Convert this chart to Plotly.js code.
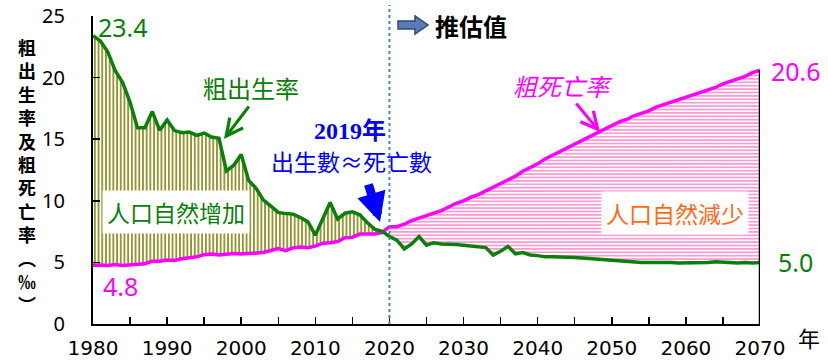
<!DOCTYPE html>
<html>
<head>
<meta charset="utf-8">
<script src="https://cdn.plot.ly/plotly-3.0.1.min.js"></script>
<style>html,body{margin:0;padding:0;background:#fff;}#chart{width:828px;height:363px;}</style>
</head>
<body>
<div id="chart"></div>
<script>
// ---- data ----
var startYear = 1980, endYear = 2070;
var years = [];
for (var yr = startYear; yr <= endYear; yr++) years.push(yr);

// crude birth rate (‰), 1980-2019 actual, 2020-2070 projection
var birthRate = [
  23.4, 22.97, 22.08, 20.56, 19.59, 18.0, 15.93, 15.93, 17.24, 15.72,
  16.55, 15.7, 15.53, 15.58, 15.31, 15.5, 15.18, 15.07, 12.43, 12.89,
  13.76, 11.65, 11.02, 10.06, 9.56, 9.06, 8.96, 8.92, 8.64, 8.29,
  7.21, 8.48, 9.86, 8.53, 8.99, 9.1, 8.86, 8.23, 7.7, 7.53,
  7.1, 6.8, 6.1, 6.5, 7.1, 6.4, 6.6, 6.5, 6.5, 6.45,
  6.4, 6.35, 6.3, 6.2, 5.6, 5.9, 6.3, 5.7, 5.8, 5.6,
  5.55, 5.45, 5.45, 5.45, 5.45, 5.4, 5.35, 5.3, 5.3, 5.25,
  5.2, 5.15, 5.05, 5.0, 5.0, 5.0, 5.0, 5.05, 5.0, 4.95,
  4.95, 4.95, 4.95, 5.0, 5.05, 5.0, 4.95, 4.95, 5.0, 4.95,
  5.0
];
// crude death rate (‰)
var deathRate = [
  4.76, 4.79, 4.74, 4.83, 4.75, 4.81, 4.87, 4.89, 5.1, 5.1,
  5.2, 5.15, 5.3, 5.36, 5.45, 5.63, 5.68, 5.6, 5.66, 5.73,
  5.68, 5.7, 5.75, 5.8, 5.97, 6.13, 5.95, 6.18, 6.25, 6.2,
  6.32, 6.56, 6.6, 6.69, 7.0, 7.03, 7.3, 7.27, 7.31, 7.42,
  7.9, 7.9, 8.1, 8.4, 8.6, 8.8, 9.0, 9.2, 9.5, 9.8,
  10.0, 10.3, 10.5, 10.8, 11.1, 11.4, 11.7, 12.0, 12.4, 12.7,
  13.0, 13.4, 13.7, 14.0, 14.3, 14.6, 14.9, 15.2, 15.5, 15.8,
  16.1, 16.4, 16.6, 16.9, 17.1, 17.3, 17.6, 17.8, 18.0, 18.2,
  18.4, 18.6, 18.8, 19.0, 19.2, 19.5, 19.7, 19.9, 20.1, 20.4,
  20.6
];
var projectionStart = 2020;
var xTickVals = [1980,1985,1990,1995,2000,2005,2010,2015,2020,2025,2030,2035,2040,2045,2050,2055,2060,2065,2070];
var xTickText = ['1980','','1990','','2000','','2010','','2020','','2030','','2040','','2050','','2060','','2070'];
var yTickVals = [0,5,10,15,20,25];
var yTitleChars = ['粗','出','生','率','及','粗','死','亡','率','︵','‰','︶'];

// ---- build ----
var split = years.indexOf(projectionStart);
var GREEN = '#0a800a', MAG = '#ff00ff';
var cjk = '"Noto Sans CJK TC", "Noto Sans CJK SC", sans-serif';

var traces = [
  {x: years.slice(0, split), y: deathRate.slice(0, split), mode: 'lines', line: {width: 0, color: 'rgba(0,0,0,0)'}, hoverinfo: 'skip', showlegend: false},
  {x: years.slice(0, split), y: birthRate.slice(0, split), mode: 'lines', line: {width: 0, color: 'rgba(0,0,0,0)'}, fill: 'tonexty',
   fillcolor: '#7a7a00', fillpattern: {shape: '|', fgcolor: '#7a7a00', bgcolor: '#ffffff', size: 3.7, solidity: 0.4}, hoverinfo: 'skip', showlegend: false},
  {x: years.slice(split), y: birthRate.slice(split), mode: 'lines', line: {width: 0, color: 'rgba(0,0,0,0)'}, hoverinfo: 'skip', showlegend: false},
  {x: years.slice(split), y: deathRate.slice(split), mode: 'lines', line: {width: 0, color: 'rgba(0,0,0,0)'}, fill: 'tonexty',
   fillcolor: '#ff80c8', fillpattern: {shape: '-', fgcolor: '#ff80c8', bgcolor: '#ffffff', size: 3.4, solidity: 0.4}, hoverinfo: 'skip', showlegend: false},
  {x: years, y: deathRate, mode: 'lines', line: {color: MAG, width: 3.5}, showlegend: false, name: '粗死亡率'},
  {x: years, y: birthRate, mode: 'lines', line: {color: GREEN, width: 3.5}, showlegend: false, name: '粗出生率'},
  {x: [years[years.length-1], years[years.length-1]], y: [0, deathRate[deathRate.length-1]], mode: 'lines', line: {color: '#000', width: 2.5}, showlegend: false, hoverinfo: 'skip'}
];

// pixel -> paper helpers (plot area 93..760 x, 16..324 y)
var L = 93, R = 760, T = 16, B = 324;
function px(x) { return (x - L) / (R - L); }
function py(y) { return (B - y) / (B - T); }

function txt(text, cx, cy, size, color, family, extra) {
  var a = {text: text, x: px(cx), y: py(cy), xref: 'paper', yref: 'paper', xanchor: 'center', yanchor: 'middle',
           showarrow: false, font: {size: size, color: color, family: family}};
  for (var k in extra) a[k] = extra[k];
  return a;
}
function arrow(tipX, tipY, tailX, tailY, color, width, head, size) {
  return {text: '', x: px(tipX), y: py(tipY), xref: 'paper', yref: 'paper', ax: tailX - tipX, ay: tailY - tipY,
          showarrow: true, arrowcolor: color, arrowwidth: width, arrowhead: head, arrowsize: size, standoff: 0};
}

var annotations = [
  txt(birthRate[0].toFixed(1), 123, 27, 25, GREEN, '"Noto Sans", sans-serif'),
  txt(deathRate[0].toFixed(1), 120, 286, 25, MAG, '"Noto Sans", sans-serif'),
  txt(deathRate[deathRate.length-1].toFixed(1), 796, 71, 25, MAG, '"Noto Sans", sans-serif'),
  txt(birthRate[birthRate.length-1].toFixed(1), 795, 262, 25, GREEN, '"Noto Sans", sans-serif'),
  txt('粗出生率', 251, 87, 24, GREEN, cjk),
  txt('人口自然增加', 176, 212, 23, GREEN, cjk, {bgcolor: '#ffffff', borderpad: 4}),
  txt('<b>2019年</b>', 350, 131, 24, '#0000ff', '"Liberation Serif", "Noto Sans CJK TC", serif'),
  txt('出生數≈死亡數', 351, 161, 23, '#0000ff', cjk),
  txt('<b>推估值</b>', 471, 25, 24, '#000000', cjk),
  txt('<i>粗死亡率</i>', 563, 85, 24, MAG, cjk),
  txt('人口自然減少', 675, 213, 23, '#ff6a1a', cjk, {bgcolor: '#ffffff', borderpad: 4}),
  txt('年', 809, 337, 22, '#000000', cjk),
  arrow(224, 139, 250, 105, GREEN, 3, 5, 1.1),
  arrow(600, 132, 575, 102, MAG, 3, 5, 1.1),
  arrow(380, 222, 368, 183, '#0000ff', 9, 2, 0.65),
  // vertical y-axis title: one upright character per line
  txt('<b>' + yTitleChars.join('<br>') + '</b>', 27, 176, 18, '#000000', cjk)
];

// block arrow icon before 推估值 (pixel outline -> paper path)
function pathFromPixels(pts) {
  return pts.map(function (p, i) { return (i ? 'L' : 'M') + px(p[0]).toFixed(5) + ',' + py(p[1]).toFixed(5); }).join(' ') + ' Z';
}
var arrowIcon = pathFromPixels([[398,21],[415,21],[415,16],[428,25],[415,34],[415,29],[398,29]]);

var layout = {
  width: 828, height: 363,
  margin: {l: L, r: 828 - R, t: T, b: 363 - B},
  paper_bgcolor: '#ffffff', plot_bgcolor: '#ffffff',
  showlegend: false,
  xaxis: {range: [startYear, endYear], tickmode: 'array', tickvals: xTickVals, ticktext: xTickText,
          ticks: 'inside', ticklen: 7, tickwidth: 1.5, tickcolor: '#000', showline: true, linecolor: '#000', linewidth: 2,
          showgrid: false, zeroline: false, ticklabelstandoff: 5,
          tickfont: {family: '"DejaVu Sans", sans-serif', size: 20, color: '#000'}},
  yaxis: {range: [0, 25], tickmode: 'array', tickvals: yTickVals,
          ticks: 'inside', ticklen: 7, tickwidth: 1.5, tickcolor: '#000', showline: true, linecolor: '#000', linewidth: 2,
          showgrid: false, zeroline: false, ticklabelstandoff: 22,
          tickfont: {family: '"Noto Sans", sans-serif', size: 20, color: '#000'}},
  shapes: [
    {type: 'line', xref: 'x', yref: 'paper', x0: projectionStart, x1: projectionStart, y0: 0, y1: py(5),
     line: {color: '#4f81bd', width: 2, dash: 'dot'}},
    {type: 'path', xref: 'paper', yref: 'paper', path: arrowIcon, fillcolor: '#5b7bb3', line: {color: '#2e4a7a', width: 1.5}}
  ],
  annotations: annotations
};

Plotly.newPlot('chart', traces, layout, {displayModeBar: false, staticPlot: true});
</script>
</body>
</html>
